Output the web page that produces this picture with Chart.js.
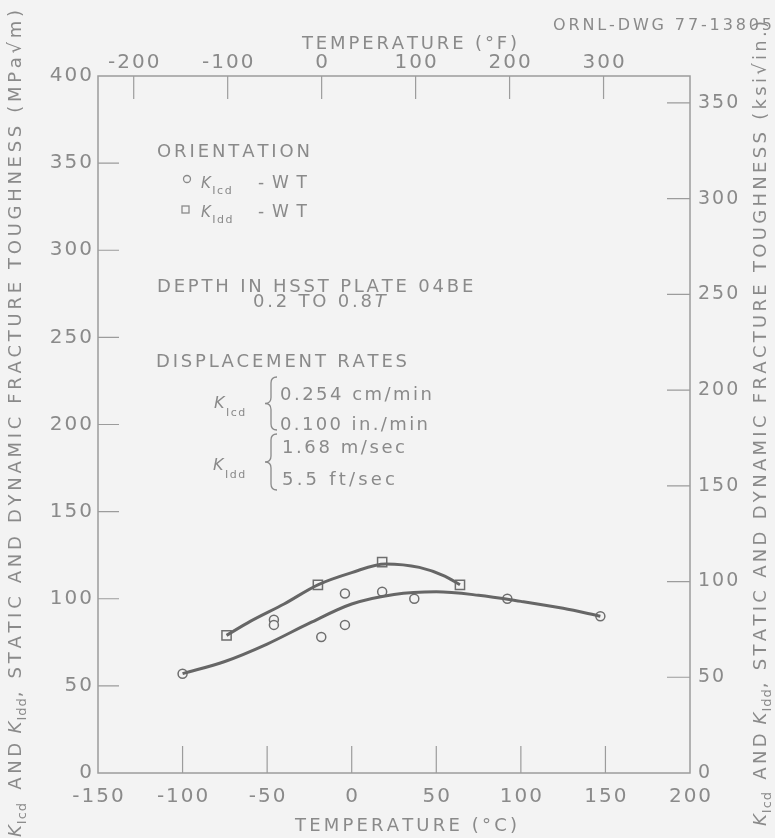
<!DOCTYPE html>
<html><head><meta charset="utf-8">
<script src="https://cdn.jsdelivr.net/npm/chart.js@4.4.0/dist/chart.umd.min.js"></script>
<style>html,body{margin:0;padding:0;background:#f3f3f3;}canvas{display:block;}</style>
</head><body>
<canvas id="c" width="775" height="838"></canvas>
<script>
// ---- data ----
const kicdTempC = [-100, -46, -46, -18, -4, -4, 18, 37, 92, 147];
const kicdValues = [57, 88, 85, 78, 103, 85, 104, 100, 100, 90];
const kiddTempC = [-74, -20, 18, 64];
const kiddValues = [79, 108, 121, 108];
const kicdCurveTempC = [-100, -75, -50, -25, 0, 25, 50, 75, 100, 125, 147];
const kicdCurveValues = [57, 64, 74, 86, 97, 102.5, 104, 102, 98.5, 94.5, 90];
const kiddCurveTempC = [-74, -60, -40, -20, 0, 20, 40, 55, 64];
const kiddCurveValues = [79, 87, 97, 108, 115, 120, 118, 113, 108];
const celsiusTicks = [-150, -100, -50, 0, 50, 100, 150, 200];
const fahrenheitTicks = [-200, -100, 0, 100, 200, 300];
const mpaTicks = [0, 50, 100, 150, 200, 250, 300, 350, 400];
const ksiTicks = [0, 50, 100, 150, 200, 250, 300, 350];

const TXT = '#8a8a8a', AX = '#9c9c9c', LINE = '#666666', BG = '#f3f3f3';
const FAM = '"DejaVu Sans"';
function fnt(s){ return (s.i ? 'italic ' : '') + s.s + 'px ' + FAM; }
function natural(ctx, segs){ let w=0,n=0; for(const s of segs){ ctx.font=fnt(s); for(const ch of s.t){ w+=ctx.measureText(ch).width; n++; } } return {w,n}; }
function widthOf(ctx, segs, sp){ const r=natural(ctx,segs); return r.w + sp*(r.n-1); }
function drawRich(ctx, segs, x, y, sp){ let cx=x; for(const s of segs){ ctx.font=fnt(s); for(const ch of s.t){ ctx.fillText(ch, cx, y+(s.dy||0)); cx+=ctx.measureText(ch).width+sp; } } return cx; }
function fitSp(ctx, segs, len){ const r=natural(ctx,segs); return (len-r.w)/(r.n-1); }
function brace(ctx, x, y0, y1){ const w=6, ym=(y0+y1)/2; ctx.beginPath(); ctx.moveTo(x+w,y0); ctx.quadraticCurveTo(x,y0,x,y0+w); ctx.lineTo(x,ym-w); ctx.quadraticCurveTo(x,ym,x-w,ym); ctx.quadraticCurveTo(x,ym,x,ym+w); ctx.lineTo(x,y1-w); ctx.quadraticCurveTo(x,y1,x+w,y1); ctx.stroke(); }
const K = (sub, ks, ss, dy) => [{t:'K', s:ks, i:true}, {t:sub, s:ss, dy:dy}];

const decor = {
  id: 'decor',
  beforeDraw(chart){ const c=chart.ctx; c.save(); c.fillStyle=BG; c.fillRect(0,0,chart.width,chart.height); c.restore(); },
  beforeDatasetsDraw(chart){
    const c=chart.ctx, a=chart.chartArea, s=chart.scales;
    c.save();
    c.strokeStyle=AX; c.lineWidth=1.5;
    c.strokeRect(a.left, a.top, a.right-a.left, a.bottom-a.top);
    c.lineWidth=1.2;
    c.beginPath();
    celsiusTicks.slice(1,-1).forEach(v=>{ const x=s.x.getPixelForValue(v); c.moveTo(x,a.bottom); c.lineTo(x,a.bottom-27); });
    fahrenheitTicks.forEach(v=>{ const x=s.xF.getPixelForValue(v); c.moveTo(x,a.top); c.lineTo(x,a.top+23); });
    mpaTicks.slice(1,-1).forEach(v=>{ const y=s.y.getPixelForValue(v); c.moveTo(a.left,y); c.lineTo(a.left+21,y); });
    ksiTicks.slice(1).forEach(v=>{ const y=s.yK.getPixelForValue(v); c.moveTo(a.right,y); c.lineTo(a.right-23,y); });
    c.stroke();
    c.fillStyle=TXT; c.textBaseline='middle'; c.textAlign='left';
    const sp=2;
    mpaTicks.forEach(v=>{ const seg=[{t:String(v),s:20}]; const w=widthOf(c,seg,sp); drawRich(c,seg,a.left-6-w,s.y.getPixelForValue(v),sp); });
    ksiTicks.forEach(v=>{ const seg=[{t:String(v),s:19}]; drawRich(c,seg,a.right+8,s.yK.getPixelForValue(v),sp); });
    celsiusTicks.forEach(v=>{ const seg=[{t:String(v),s:20}]; const w=widthOf(c,seg,sp); drawRich(c,seg,s.x.getPixelForValue(v)-w/2,797,sp); });
    fahrenheitTicks.forEach(v=>{ const seg=[{t:String(v),s:20}]; const w=widthOf(c,seg,sp); drawRich(c,seg,s.xF.getPixelForValue(v)-w/2,63,sp); });
    c.restore();
  },
  afterDatasetsDraw(chart){
    const c=chart.ctx;
    c.save(); c.fillStyle=TXT; c.strokeStyle=TXT; c.textBaseline='alphabetic'; c.textAlign='left';
    const fit=(segs,x0,x1,y)=>drawRich(c,segs,x0,y,fitSp(c,segs,x1-x0));
    fit([{t:'ORNL-DWG 77-13805',s:16}],553,772,30);
    fit([{t:'TEMPERATURE (°F)',s:18}],302,517,49);
    fit([{t:'TEMPERATURE (°C)',s:18}],295,517,831);
    // vertical titles
    const vt = (unit, bx, by, len) => {
      c.save(); c.translate(bx,by); c.rotate(-Math.PI/2);
      const k1=K('Icd',18,13,5), k2=K('Idd',18,13,5);
      const rest1=[{t:' AND ',s:18}], body=[{t:', STATIC AND DYNAMIC FRACTURE TOUGHNESS ('+unit+')',s:18}];
      const kw = widthOf(c,k1,1) + widthOf(c,k2,1);
      const sp = fitSp(c, [...rest1, ...body], len - kw - 4);
      let x = drawRich(c, k1, 0, 0, 1);
      x = drawRich(c, rest1, x - 1 + sp, 0, sp);
      x = drawRich(c, k2, x - sp, 0, 1);
      drawRich(c, body, x - 1 + 1, 0, sp);
      c.restore();
    };
    vt('MPa√m',21,837,830);
    vt('ksi√in.',766,826,808);
    // annotation block
    fit([{t:'ORIENTATION',s:18}],157,310,157);
    drawRich(c,K('Icd',15,11,6),201,188,1.5);
    fit([{t:'-WT',s:17}],258,307,188);
    drawRich(c,K('Idd',15,11,6),201,217,1.5);
    fit([{t:'-WT',s:17}],258,307,217);
    c.lineWidth=1.3;
    c.beginPath(); c.arc(187,179,3.5,0,Math.PI*2); c.stroke();
    c.strokeRect(182,206,7,7);
    drawRich(c,[{t:'DEPTH IN HSST PLATE 04BE',s:18}],157,292,2.8);
    drawRich(c,[{t:'0.2 TO 0.8',s:18},{t:'T',s:18,i:true}],253,307,2.8);
    fit([{t:'DISPLACEMENT RATES',s:18}],156,407,367);
    drawRich(c,K('Icd',16,11,8),214,408,1.5);
    drawRich(c,K('Idd',16,11,8),213,470,1.5);
    brace(c,271,377,430); brace(c,271,434,490);
    fit([{t:'0.254 cm/min',s:18}],280,432,400);
    fit([{t:'0.100 in./min',s:18}],280,428,430);
    fit([{t:'1.68 m/sec',s:18}],282,405,453);
    fit([{t:'5.5 ft/sec',s:18}],282,395,485);
    c.restore();
  }
};

const pts = (xs, ys) => xs.map((x,i)=>({x, y: ys[i]}));
new Chart(document.getElementById('c'), {
  type: 'line',
  data: { datasets: [
    { label:'KIcd fit', data: pts(kicdCurveTempC, kicdCurveValues), borderColor: LINE, borderWidth: 3, pointRadius: 0, cubicInterpolationMode: 'monotone', fill:false },
    { label:'KIdd fit', data: pts(kiddCurveTempC, kiddCurveValues), borderColor: LINE, borderWidth: 3, pointRadius: 0, cubicInterpolationMode: 'monotone', fill:false },
    { label:'KIcd-WT', data: pts(kicdTempC, kicdValues), showLine:false, pointStyle:'circle', pointRadius:4.5, pointBackgroundColor: BG, pointBorderColor:'#6e6e6e', pointBorderWidth:1.5 },
    { label:'KIdd-WT', data: pts(kiddTempC, kiddValues), showLine:false, pointStyle:'rect', pointRadius:6.5, pointBackgroundColor: BG, pointBorderColor:'#6e6e6e', pointBorderWidth:1.5 }
  ]},
  options: {
    responsive:false, animation:false, devicePixelRatio:1,
    layout: { padding: { left: 98, right: 85, top: 76, bottom: 65 } },
    plugins: { legend:{display:false}, tooltip:{enabled:false} },
    scales: {
      x: { type:'linear', min:-150, max:200, display:false },
      xF: { type:'linear', position:'top', min:-238, max:392, display:false },
      y: { type:'linear', min:0, max:400, display:false },
      yK: { type:'linear', position:'right', min:0, max:400/1.0988, display:false }
    }
  },
  plugins: [decor]
});
</script>
</body></html>
